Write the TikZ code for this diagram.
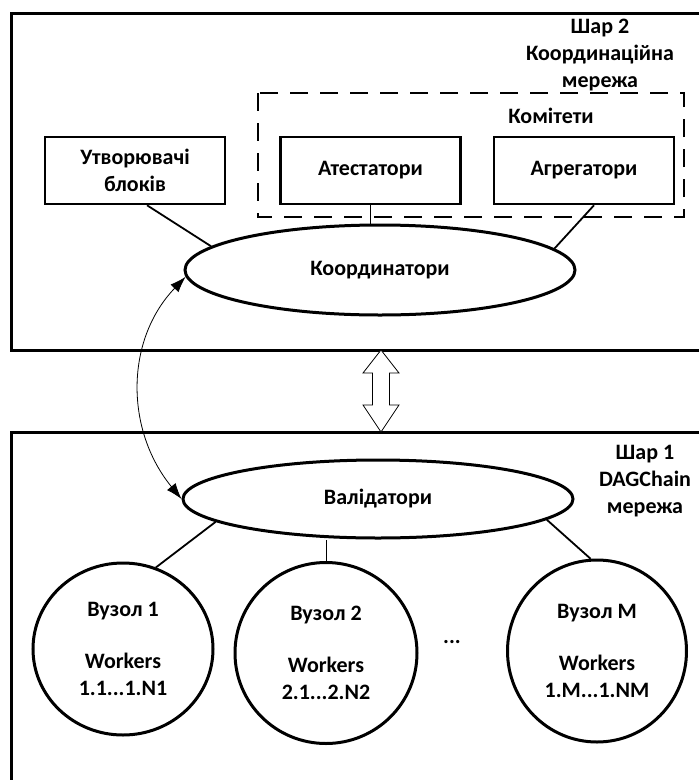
\documentclass[tikz,border=0pt]{standalone}
\usepackage{fontspec}
\setmainfont{Carlito}
\usetikzlibrary{arrows.meta,shapes.geometric}
\begin{document}
\begin{tikzpicture}[x=1pt,y=-1pt,
  lbl/.style={font=\bfseries\fontsize{22}{27}\selectfont, align=center},
  layer/.style={line width=3pt},
  committee/.style={line width=2.5pt, dash pattern=on 18pt off 12pt},
  box/.style={draw, line width=2.5pt, minimum width=180pt, minimum height=67pt, inner sep=0pt, lbl},
  oval/.style={draw, ellipse, line width=3pt, inner sep=0pt, lbl},
  link/.style={line width=1.8pt},
  thinlink/.style={line width=0.8pt},
  bothtips/.style={{Latex[length=16pt,width=11pt]}-{Latex[length=16pt,width=11pt]}},
]
\useasboundingbox (0,0) rectangle (699,780);
\begin{scope}
  \clip (0,0) rectangle (699,780);
  \draw[layer] (11,13) rectangle (720,350);
  \draw[layer] (11,432) rectangle (720,800);
\end{scope}

% layer 2
\node[lbl] (l2) at (600,55) {Шар 2\\Координаційна\\мережа};
\draw[committee] (258,93) rectangle (684,217);
\node[lbl] (kom) at (551,116) {Комітети};
\node[box] (ub) at (135,170.5) {Утворювачі\\блоків};
\node[box] (at) at (370.5,170.5) {Атестатори};
\node[box] (ag) at (584,170.5) {Агрегатори};
\node[oval, minimum width=390pt, minimum height=90pt] (coord) at (380,270) {Координатори};

\draw[link] ([xshift=12pt]ub.south) -- (coord.172.7);
\draw[thinlink] (at.south) -- (at.south |- coord.north);
\draw[link] ([xshift=10pt]ag.south) -- (coord.7.6);

% double arrow between layers
\draw[line width=0.8pt, fill=white] (381,350) -- (399,373) -- (389.5,373) -- (389.5,405) -- (399,405)
  -- (381,432) -- (363,405) -- (372.5,405) -- (372.5,373) -- (363,373) -- cycle;

% layer 1
\node[lbl] (l1) at (645,481) {Шар 1\\DAGChain\\мережа};
\node[oval, minimum width=390pt, minimum height=78pt] (val) at (378,499) {Валідатори};
\node[oval, minimum width=180pt, minimum height=172pt] (v1) at (123,649) {Вузол 1\\[25pt]Workers\\1.1...1.N1};
\node[oval, minimum width=182pt, minimum height=181pt] (v2) at (326,653) {Вузол 2\\[25pt]Workers\\2.1...2.N2};
\node[oval, minimum width=179pt, minimum height=182pt] (vM) at (597,651) {Вузол M\\[25pt]Workers\\1.M...1.NM};
\node[lbl] (dots) at (452,642) {...};

\draw[link] (val.188) -- (v1.68);
\draw[thinlink] (v2.north) -- (v2.north |- val.south);
\draw[link] (val.-7) -- (vM.94);

% curved link between coordinators and validators
\draw[thinlink, bothtips] (coord.182) .. controls (125,340) and (125,430) .. (val.180);
\end{tikzpicture}
\end{document}
